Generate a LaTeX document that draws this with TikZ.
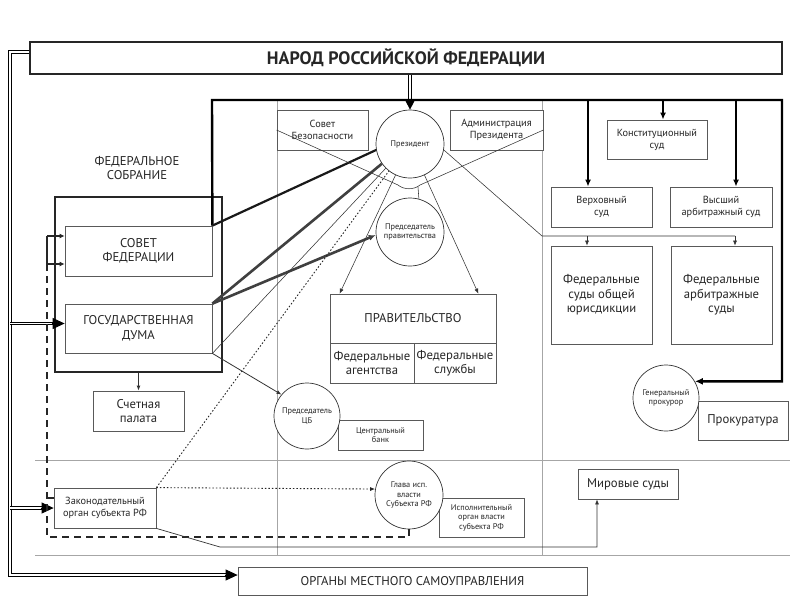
\documentclass[tikz,border=0pt]{standalone}
\usepackage{fontspec}
\setmainfont{PT Sans}
\usetikzlibrary{arrows.meta,calc}
\begin{document}
\begin{tikzpicture}[x=1pt,y=-1pt,
  box/.style={draw=black!65, line width=0.8pt, inner sep=1pt, align=center, text=black!85, fill=white},
  circ/.style={draw=black!80, line width=0.7pt, circle, inner sep=0pt, align=center, text=black!85, fill=white, font=\fontsize{8.3}{9.3}\selectfont},
  divider/.style={draw=black!35, line width=0.6pt},
  dbl/.style={double=white, draw=black, line width=0.8pt, double distance=1.6pt},
  dblhead/.style={draw=black, line width=0.8pt, -{Triangle[length=12pt,width=11pt]}},
  framel/.style={draw=black, line width=2.4pt},
  thickarr/.style={draw=black, line width=2.2pt, -{Latex[length=7pt,width=6pt]}},
  thinline/.style={draw=black!80, line width=0.55pt},
  thinarr/.style={thinline, -{Latex[length=5pt,width=4pt]}},
  heavy/.style={draw=black!90, line width=2.2pt},
  dotline/.style={draw=black!85, line width=0.9pt, dash pattern=on 1.5pt off 2pt},
  dashline/.style={draw=black!85, line width=1.6pt, dash pattern=on 7pt off 5pt},
  fA/.style={font=\fontsize{12.7}{14.5}\selectfont},
  fB/.style={font=\fontsize{10.3}{12}\selectfont},
  fC/.style={font=\fontsize{8.3}{9.5}\selectfont}
]
\useasboundingbox[fill=white] (0,0) rectangle (800,600);

% dividers
\draw[divider] (277,100) -- (277,555);
\draw[divider] (542,100) -- (542,555);
\draw[divider] (35,460) -- (790,460);
\draw[divider] (35,555) -- (790,555);

% nodes
\node[box, draw=black!85, line width=2.2pt, minimum width=752, minimum height=32, font=\bfseries\fontsize{18}{20}\selectfont] (title) at (406,58) {НАРОД РОССИЙСКОЙ ФЕДЕРАЦИИ};
\node[fA, align=center, text=black!85] (fslabel) at (137,168) {ФЕДЕРАЛЬНОЕ\\СОБРАНИЕ};
\node[draw=black!85, line width=2pt, minimum width=167, minimum height=175, inner sep=0pt] (fedsob) at (138.5,284.5) {};
\node[box, fA, minimum width=147, minimum height=50] (sovfed) at (138.5,251) {СОВЕТ\\ФЕДЕРАЦИИ};
\node[box, fA, minimum width=147, minimum height=49] (gosduma) at (138.5,328.5) {ГОСУДАРСТВЕННАЯ\\ДУМА};
\node[box, fA, minimum width=91, minimum height=40] (schet) at (138.5,411) {Счетная\\палата};
\node[box, fB, minimum width=91, minimum height=40] (sovbez) at (322.5,130) {Совет\\Безопасности};
\node[box, fB, minimum width=93, minimum height=40] (admin) at (496.5,130) {Администрация\\Президента};
\node[circ, minimum size=68] (pres) at (410,144) {Президент};
\node[circ, minimum size=68] (predprav) at (410,232) {Председатель\\правительства};
\node[box, fA, minimum width=166, minimum height=49] (pravtop) at (413,318.5) {ПРАВИТЕЛЬСТВО};
\node[box, fA, minimum width=84, minimum height=40] (agent) at (372,363) {Федеральные\\агентства};
\node[box, fA, minimum width=82, minimum height=40] (sluzh) at (455,363) {Федеральные\\службы};
\node[box, fC, minimum width=85, minimum height=30] (cbank) at (380.5,435) {Центральный\\банк};
\node[circ, minimum size=66] (predcb) at (307,416) {Председатель\\ЦБ};
\node[box, fB, minimum width=100, minimum height=39] (konst) at (657,139.5) {Конституционный\\суд};
\node[box, fB, minimum width=101, minimum height=40] (verh) at (601.5,207) {Верховный\\суд};
\node[box, fB, minimum width=102, minimum height=40] (vas) at (721,207) {Высший\\арбитражный суд};
\node[box, fA, minimum width=101, minimum height=98] (fso) at (601.5,295) {Федеральные\\суды общей\\юрисдикции};
\node[box, fA, minimum width=101, minimum height=98] (fas) at (721.5,295) {Федеральные\\арбитражные\\суды};
\node[box, fA, minimum width=90, minimum height=39] (prok) at (743,420.5) {Прокуратура};
\node[circ, minimum size=66] (genprok) at (666,398) {Генеральный\\прокурор};
\node[box, fB, minimum width=102, minimum height=40] (zak) at (105,508) {Законодательный\\орган субъекта РФ};
\node[box, fC, minimum width=85, minimum height=39] (ispol) at (481.5,517.5) {Исполнительный\\орган власти\\субъекта РФ};
\node[circ, minimum size=68] (glava) at (409,495) {Глава исп.\\власти\\Субъекта РФ};
\node[box, fA, minimum width=100, minimum height=30] (mir) at (628,484) {Мировые суды};
\node[box, fA, minimum width=349, minimum height=28] (organy) at (412.5,581) {ОРГАНЫ МЕСТНОГО САМОУПРАВЛЕНИЯ};

% outer double line
\coordinate (oTop) at (10,52);
\coordinate (oBot) at (10,575);
\coordinate (gdA) at ([yshift=5]gosduma.west);
\coordinate (orA) at ([yshift=6]organy.west);
\draw[dbl] ([yshift=6]title.west) -- (oTop) -- (oBot) -- ($(orA)+(-9,0)$);
\draw[dblhead] ($(orA)+(-13,0)$) -- (orA);
\draw[dbl] (oTop |- gdA) -- ($(gdA)+(-9,0)$);
\draw[dblhead] ($(gdA)+(-13,0)$) -- (gdA);
\draw[dbl] (oTop |- zak.west) -- ($(zak.west)+(-9,0)$);
\draw[dblhead] ($(zak.west)+(-13,0)$) -- (zak.west);

% people -> president
\coordinate (tP) at (title.south -| pres.north);
\draw[dbl, line width=1pt, double distance=2.4pt] (tP) -- ($(pres.north)+(0,-7)$);
\draw[draw=black, line width=1pt, -{Triangle[length=10pt,width=10pt]}] ($(pres.north)+(0,-11)$) -- (pres.north);

% frame
\coordinate (fTL) at (212,100);
\coordinate (fTR) at (782,100);
\draw[framel, -{Latex[length=8pt,width=7pt]}] (sovfed.north east) -- (fTL) -- (fTR) -- (fTR |- genprok.30) -- (genprok.30);

% courts
\coordinate (cV) at ([xshift=-13.5]verh.north);
\coordinate (cK) at ([xshift=6]konst.north);
\coordinate (cA) at ([xshift=15]vas.north);
\draw[thickarr] (cV |- fTL) -- (cV);
\draw[thickarr] (cK |- fTL) -- (cK);
\draw[thickarr] (cA |- fTL) -- (cA);

% federal assembly <-> president
\draw[heavy] (sovfed.north east) -- (pres.190);
\draw[heavy, draw=black!75, line width=2.6pt] (gosduma.north east) -- (pres.215);
\draw[heavy, draw=black!75, line width=2.6pt, -{Latex[length=7pt,width=6pt]}] (gosduma.north east) -- (predprav.185);
\draw[thinline] (gosduma.south east) -- (pres.225);
\draw[thinarr, line width=0.8pt] (gosduma.south east) -- (predcb.140);
\draw[dotline] (zak.north east) -- (pres.232);
\draw[dotline, -{Latex[length=5pt,width=4pt]}] (zak.north east) -- (glava.170);

% security council / administration
\coordinate (vL) at (398,185);
\coordinate (vR) at (420,185);
\coordinate (vM) at (418,187);
\draw[thinline] (sovbez.west) -- (vL) .. controls (404,190) and (414,190) .. (vR) -- (admin.east);
\draw[thinline] (predprav.75) -- (vM);

% president -> government
\coordinate (pA) at ([xshift=10]pravtop.north west);
\coordinate (pB) at ([xshift=-18]pravtop.north east);
\draw[thinarr] (pres.245) -- (pA);
\draw[thinarr] (pres.295) -- (pB);

% president -> courts
\coordinate (cL) at (542,236);
\coordinate (fsoT) at ([xshift=-14.5]fso.north);
\coordinate (fasT) at ([xshift=13.5]fas.north);
\draw[thinline] (pres.-10) -- (cL) -- (fasT |- cL);
\draw[thinarr] (fsoT |- cL) -- (fsoT);
\draw[thinarr] (fasT |- cL) -- (fasT);

% federal assembly -> accounts chamber
\draw[thinarr, line width=0.9pt] (fedsob.south) -- (schet.north);

% dashed representation line
\coordinate (dBL) at (47,537);
\coordinate (dT1) at (47,236);
\coordinate (dT2) at (47,264);
\coordinate (zS) at ([yshift=10]zak.west);
\draw[dashline] (glava.south) |- (dBL) -- (dT2);
\draw[draw=black!85, line width=1.6pt] (dT2) -- (dT1);
\draw[draw=black!85, line width=1.2pt, -{Latex[length=5pt,width=5pt]}] (dT1) -- (dT1 -| sovfed.west);
\draw[draw=black!85, line width=1.2pt, -{Latex[length=5pt,width=5pt]}] (dT2) -- (dT2 -| sovfed.west);
\draw[draw=black!85, line width=1.2pt] (zS) -- (zS -| dBL);

% legislative body -> magistrates
\coordinate (mL) at (220,547);
\coordinate (mR) at ([xshift=-31]mir.south);
\draw[thinarr, line width=0.7pt] (zak.south east) -- (mL) -- (mR |- mL) -- (mR);
\end{tikzpicture}
\end{document}
